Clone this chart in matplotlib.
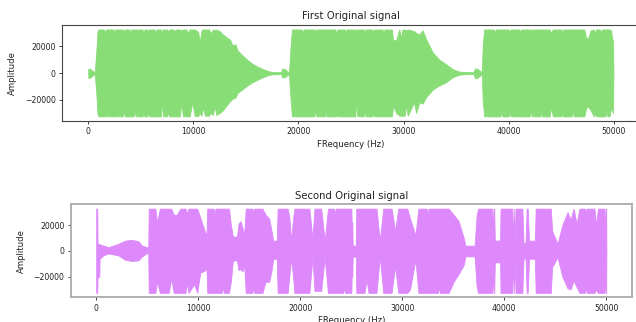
import matplotlib
matplotlib.use("Agg")
import matplotlib.pyplot as plt

# ---- first signal: envelope (Hz, upper, lower) ----
first_freq = [0, 150, 450, 620, 760, 880,
              980, 1500, 1600, 1700, 2400, 2500, 2600, 3300, 3400, 3500, 3900, 4000, 4100,
              4300, 4400, 4500, 5150, 5250, 5350, 5600, 5700, 5800, 6300, 6400, 6500,
              6900, 7000, 7100, 7500, 7600, 7700, 8100, 8200, 8300, 8700, 8850, 9000,
              9350, 9450, 9650, 9900, 10130, 10450, 10600, 10770, 10920, 11100,
              11500, 11600, 11870, 12000, 12190, 12500, 12800,
              13300, 13500, 13700, 14000, 14200, 14700, 15200, 15600, 16100, 16600, 17100, 17500, 18000, 18350,
              18450, 18700, 18950, 19100, 19250,
              19380, 20300, 20400, 20500, 21500, 21600, 21700, 22500, 22600, 22700,
              23500, 23600, 23700, 24400, 24500, 24600, 25400, 25500, 25600,
              26200, 26300, 26400, 27000, 27100, 27200, 28000, 28100, 28200,
              28900, 29000, 29300, 29600, 29760, 29900, 30100, 30240, 30400, 31000, 31200, 31500, 31820,
              32140, 32770, 33400, 34030, 34660, 35300, 36000, 36650,
              36800, 37050, 37350, 37450, 37530,
              37670, 38600, 38700, 38800, 39200, 39300, 39400, 40000, 40100, 40200,
              41000, 41100, 41200, 42000, 42100, 42200, 43000, 43100, 43200,
              43900, 44050, 44200, 45000, 45100, 45200, 46000, 46100, 46200,
              47200, 47400, 47600, 47800, 48100, 48200, 48300, 48700, 48800, 48900,
              49200, 49300, 49400, 49600, 49750, 49850, 49930, 49970]
first_upper = [3200, 3300, 1300, 800, 16000, 31500,
               32700, 32700, 30500, 32700, 32700, 31000, 32700, 32700, 31200, 32700, 32700, 30000, 32700,
               32700, 32700, 32700, 32700, 30200, 32700, 32700, 31500, 32700, 32700, 29800, 32700,
               32700, 30500, 32700, 32700, 30800, 32700, 32700, 31200, 32700, 32700, 32000, 32700,
               32700, 30000, 32700, 32700, 32700, 31000, 23000, 32000, 32700, 32700,
               32700, 29500, 32700, 32000, 32700, 31500, 29000,
               26000, 25000, 21000, 21500, 17000, 13000, 9500, 7000, 4800, 3000, 1500, 800, 700, 600,
               3300, 3000, 1200, 900, 20000,
               32700, 32700, 30500, 32700, 32700, 31500, 32700, 32700, 32700, 32700,
               32700, 29200, 32700, 32700, 30800, 32700, 32700, 32000, 32700,
               32700, 31000, 32700, 32700, 31000, 32700, 32700, 30000, 32700,
               32700, 24300, 25000, 32700, 27000, 32500, 32700, 32000, 32700, 31500, 30000, 29000, 32000,
               25500, 15500, 10000, 6700, 3000, 1000, 700, 600,
               3500, 3000, 1200, 900, 20000,
               32700, 32700, 30500, 32700, 32700, 32700, 32700, 32700, 31000, 32700,
               32700, 31000, 32700, 32700, 32000, 32700, 32700, 32700, 32700,
               32700, 30000, 32700, 32700, 30000, 32700, 32700, 32700, 32700,
               32700, 25500, 27000, 32000, 32700, 29000, 32700, 32700, 30500, 32700,
               32700, 32700, 32700, 32700, 32000, 26000, 24000, 0]
first_lower = [-3500, -3600, -1600, -1000, -15000, -31000,
               -32500, -32600, -32600, -32400, -32600, -32600, -32400, -32600, -29500, -32600, -32600, -32600, -32600,
               -32600, -28000, -32500, -32600, -31000, -32600, -32600, -30000, -32600, -32600, -32600, -32600,
               -32600, -20700, -32400, -32600, -29500, -32600, -32600, -32600, -32600, -32600, -23200, -32400,
               -32600, -32600, -32500, -21900, -32300, -32300, -30000, -32000, -25700, -32000,
               -32000, -30000, -31500, -24400, -31500, -30000, -28000,
               -23000, -21000, -19500, -18500, -15000, -12000, -9000, -7000, -5000, -3200, -1700, -1000, -900, -800,
               -3200, -3300, -1500, -1000, -20000,
               -32500, -32600, -32600, -32600, -32600, -29000, -32500, -32600, -30000, -32600,
               -32600, -32000, -32500, -32600, -32600, -32600, -32600, -20700, -32400,
               -32600, -29000, -32600, -32600, -31000, -32500, -32600, -32600, -32600,
               -32500, -24400, -30000, -32000, -32000, -32200, -32000, -24400, -32000, -22000, -30000, -22000, -23000,
               -18200, -12500, -9300, -7000, -3200, -1200, -900, -800,
               -4000, -3500, -1500, -1000, -20000,
               -32500, -32600, -32600, -32600, -32600, -29500, -32600, -32600, -30000, -32500,
               -32600, -32600, -32600, -32600, -29000, -32500, -32600, -30000, -32600,
               -32600, -25700, -32500, -32600, -31000, -32600, -32600, -28500, -32600,
               -32500, -25700, -25700, -28000, -32500, -30000, -32500, -32600, -32600, -32600,
               -32600, -29000, -32600, -32500, -26000, -28000, -30000, 0]

# ---- second signal ----
second_freq = [0, 100, 130, 300, 330, 690, 1200, 2170, 2830, 3490, 4140, 4470, 4970, 5100,
               5150, 5800, 5950, 6250, 7100, 7350, 7600, 7900, 8250, 8740, 8900, 9040, 9600, 9900, 10200, 10720, 10800,
               10890, 11500, 11600, 11700, 12300, 12400, 12500, 13020, 13200, 13400, 13800, 13950, 14150, 14340, 14500,
               14660, 15300, 15400, 15500, 16300, 16600, 16960, 17200, 17350, 17700, 17790, 18770, 18950, 19100, 19300,
               19430, 20900, 21200, 21400, 22060, 22400, 22720, 23300, 23400, 23500, 24200, 24300, 24400,
               25020, 25080, 25100, 25150, 25450,
               25500, 26300, 26500, 26700, 27480, 27800, 28140, 28960, 29300, 29620, 30500, 30770, 31300,
               31590, 32400, 32500, 32600, 33500, 33600, 33700, 34550, 35040, 35530, 36030, 36200, 37100, 37300, 37450,
               38820, 38900, 38960, 39020, 39080, 39600, 39640, 40790, 40880, 40950, 41000, 41120, 41780, 41900,
               42100, 42200, 42300, 42440, 43000,
               43090, 44570, 44700, 45230, 45700, 46210, 46500, 46800, 47100, 47370, 47900, 48000, 48100,
               48850, 49000, 49200, 49830, 49900, 49960, 50000, 50020]
second_upper = [32700, 32700, 5400, 5400, 5000, 4100, 2800, 5400, 7900, 8500, 7400, 4100, 2800, 2800,
                32700, 32700, 22000, 32700, 32700, 32700, 28000, 28000, 32700, 32700, 29000, 32700, 32700, 32700, 25800, 13300, 10500,
                32700, 32700, 29000, 32700, 32700, 32700, 32700, 32700, 20000, 11000, 11000, 21000, 23000, 18000, 12000,
                32700, 32700, 30000, 32700, 32700, 28000, 25000, 15000, 7900, 7900, 32700, 32700, 25000, 8000, 25000,
                32700, 32700, 9500, 32700, 32700, 7900, 32700, 32700, 29500, 32700, 32700, 32700, 32700,
                32700, 4000, 22000, 4000, 4000,
                32700, 32700, 32700, 32700, 32700, 7900, 32700, 32700, 15500, 32700, 32700, 25000, 12000,
                32700, 32700, 29000, 32700, 32700, 32700, 32700, 32700, 28000, 23000, 10000, 4000, 4000, 28000, 32700,
                32700, 15000, 32700, 32700, 8000, 8000, 32700, 32700, 5000, 32700, 5000, 32700, 32700, 6000,
                6000, 32700, 32700, 7900, 7900,
                32700, 32700, 15600, 5400, 20000, 30000, 24000, 32700, 21000, 32700, 32700, 30000, 32700,
                32700, 20000, 32700, 32700, 8000, 32700, 32700, 0]
second_lower = [-32600, -32600, -20300, -20300, -6200, -3600, -2000, -3600, -6900, -7900, -7400, -4500, -1800, -1800,
                -32600, -32600, -24000, -32600, -32600, -21500, -32600, -32600, -32600, -32600, -25000, -32600, -26000, -32600, -17000, -15000, -9800,
                -32600, -32600, -32600, -32600, -32600, -28000, -32600, -32600, -24000, -7500, -7500, -15000, -14000, -16000, -10000,
                -32600, -32600, -29000, -32600, -32600, -24000, -24000, -15000, -6200, -6200, -32600, -32600, -18000, -6200, -20000,
                -32600, -32600, -5500, -31000, -31000, -5000, -32600, -32600, -32600, -32600, -32600, -29000, -32600,
                -32600, -4500, -20000, -4500, -4500,
                -32600, -32600, -22000, -32600, -32600, -4300, -32600, -32600, -12000, -32600, -32600, -30000, -7000,
                -32600, -32600, -32600, -32600, -32600, -28500, -32600, -32600, -24000, -18000, -11000, -4300, -4300, -28000, -32600,
                -32600, -15000, -32600, -32600, -9000, -9000, -32600, -32600, -6000, -32600, -6000, -32600, -32600, -6000,
                -6000, -32600, -32600, -6200, -6200,
                -32600, -32600, -12600, -4900, -20000, -29000, -30000, -23000, -28000, -32600, -32600, -29000, -32600,
                -32600, -30000, -32600, -32600, -20000, -32600, -32600, 0]

x_ticks = [0, 10000, 20000, 30000, 40000, 50000]
y_ticks = [-20000, 0, 20000]

fig = plt.figure(figsize=(6.36, 3.22), dpi=100)
ax1 = fig.add_axes([0.0975, 0.6242, 0.9088, 0.2981])
ax2 = fig.add_axes([0.1112, 0.0767, 0.882, 0.2888])


def signal_plot(ax, freq, upper, lower, color, title, spine_col, spine_w, title_pad, ylab_x):
    ax.fill_between(freq, lower, upper, color=color, edgecolor=color, linewidth=0.6)
    ax.set_xlim(-2500, 52500)
    ax.set_ylim(-36045, 36044)
    ax.set_xticks(x_ticks)
    ax.set_yticks(y_ticks)
    ax.tick_params(labelsize=5.6, length=2.4, width=0.6, pad=2.2, colors="#222222")
    for s in ax.spines.values():
        s.set_color(spine_col)
        s.set_linewidth(spine_w)
    ax.set_title(title, fontsize=7.3, pad=title_pad, color="#222222")
    ax.set_xlabel("FRequency (Hz)", fontsize=6.1, labelpad=2.6, color="#222222")
    ax.set_ylabel("Amplitude", fontsize=6.1, color="#222222")
    ax.yaxis.set_label_coords(ylab_x, 0.5)


signal_plot(ax1, first_freq, first_upper, first_lower, "#88dd77",
            "First Original signal", "#444444", 0.8, 4.0, -0.0784)
signal_plot(ax2, second_freq, second_upper, second_lower, "#dd88fb",
            "Second Original signal", "#aaaaaa", 1.3, 3.8, -0.0797)

fig.savefig("out.png", dpi=100)
